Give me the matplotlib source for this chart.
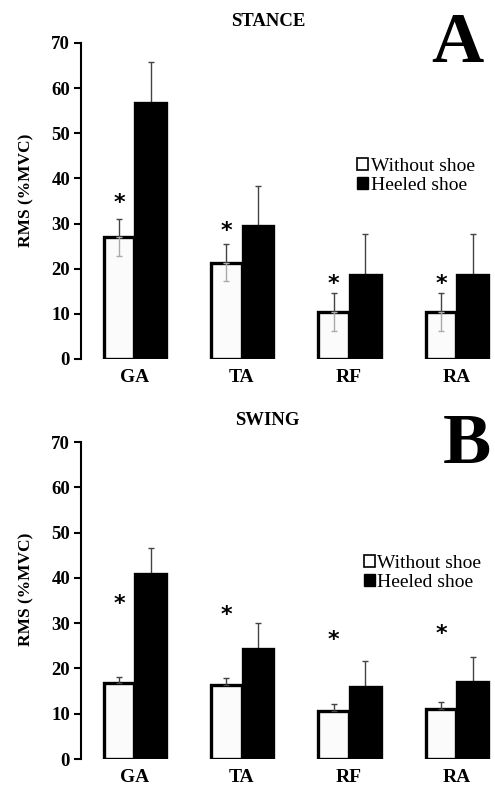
import matplotlib
matplotlib.use('Agg')
import matplotlib.pyplot as plt
from matplotlib.patches import Patch
import numpy as np

plt.rcParams['font.family'] = ['Liberation Serif', 'DejaVu Serif']

muscles = ['GA', 'TA', 'RF', 'RA']
legend_labels = ['Without shoe', 'Heeled shoe']

# stance phase
stance_without = [27.0, 21.3, 10.5, 10.5]
stance_without_sd = [4.1, 4.1, 4.2, 4.2]
stance_heeled = [56.7, 29.5, 18.7, 18.7]
stance_heeled_sd = [9.0, 8.8, 8.9, 8.9]
stance_star = [34.6, 28.3, 16.7, 16.7]

# swing phase
swing_without = [16.7, 16.4, 10.6, 11.0]
swing_without_sd = [1.5, 1.5, 1.6, 1.6]
swing_heeled = [40.8, 24.2, 16.0, 17.0]
swing_heeled_sd = [5.7, 5.8, 5.7, 5.6]
swing_star = [34.3, 31.7, 26.3, 27.5]

fig = plt.figure(figsize=(4.95, 7.9), dpi=100)

def panel(rect, without, without_sd, heeled, heeled_sd, star, both_sides, leg_x, leg_y):
    ax = fig.add_axes(rect)
    x = np.arange(len(muscles))
    w = 0.285
    ax.bar(x - w/2, without, w, color='#fbfbfb', edgecolor='black', linewidth=2.4, zorder=2)
    ax.bar(x + w/2 + 0.01, heeled, w, color='black', edgecolor='black', linewidth=2.4, zorder=2)
    # error bars
    z = [0]*len(muscles)
    ax.errorbar(x - w/2, without, yerr=[z, without_sd], fmt='none', ecolor='#444444',
                elinewidth=1.0, capsize=2.5, capthick=1.0, zorder=3)
    if both_sides:
        ax.errorbar(x - w/2, without, yerr=[without_sd, z], fmt='none', ecolor='#aaaaaa',
                    elinewidth=1.0, capsize=2.5, capthick=1.0, zorder=3)
    ax.errorbar(x + w/2 + 0.01, heeled, yerr=[z, heeled_sd], fmt='none', ecolor='#444444',
                elinewidth=1.0, capsize=2.5, capthick=1.0, zorder=1)
    for xi, s in zip(x, star):
        ax.text(xi - w/2, s, '*', ha='center', va='center', fontsize=16, fontweight='bold',
                family='DejaVu Sans')
    ax.set_xlim(-0.495, 3.36)
    ax.set_ylim(0, 70)
    ax.set_yticks(range(0, 71, 10))
    ax.set_xticks(x)
    ax.set_xticklabels(muscles, fontsize=14, fontweight='bold')
    ax.tick_params(axis='x', length=0, pad=7)
    ax.tick_params(axis='y', length=5, width=1.5, labelsize=13.5, direction='out', pad=3)
    for lab in ax.get_yticklabels():
        lab.set_fontweight('bold')
    for sp in ['top', 'right', 'bottom']:
        ax.spines[sp].set_visible(False)
    ax.spines['left'].set_linewidth(1.5)
    ax.set_ylabel('RMS (%MVC)', fontsize=12.5, fontweight='bold')
    ax.yaxis.set_label_coords(-0.112, 0.535)
    handles = [Patch(facecolor='white', edgecolor='black', linewidth=1.2),
               Patch(facecolor='black', edgecolor='black')]
    fig.legend(handles, legend_labels, loc='upper left', bbox_to_anchor=(leg_x, leg_y),
               frameon=False, fontsize=14, handlelength=0.55, handleheight=0.55,
               handletextpad=0.15, labelspacing=0.1, borderaxespad=0, borderpad=0)
    return ax

panel([0.164, 0.5456, 0.836, 0.40], stance_without, stance_without_sd, stance_heeled,
      stance_heeled_sd, stance_star, True, 0.722, 0.800)
panel([0.164, 0.0392, 0.836, 0.4013], swing_without, swing_without_sd, swing_heeled,
      swing_heeled_sd, swing_star, False, 0.735, 0.298)

fig.text(0.541, 0.973, 'STANCE', ha='center', va='center', fontsize=13.5, fontweight='bold')
fig.text(0.541, 0.468, 'SWING', ha='center', va='center', fontsize=13.5, fontweight='bold')
fig.text(0.925, 0.9215, 'A', ha='center', va='baseline', fontsize=52, fontweight='bold')
fig.text(0.943, 0.414, 'B', ha='center', va='baseline', fontsize=52, fontweight='bold')

fig.savefig('out.png', dpi=100)
